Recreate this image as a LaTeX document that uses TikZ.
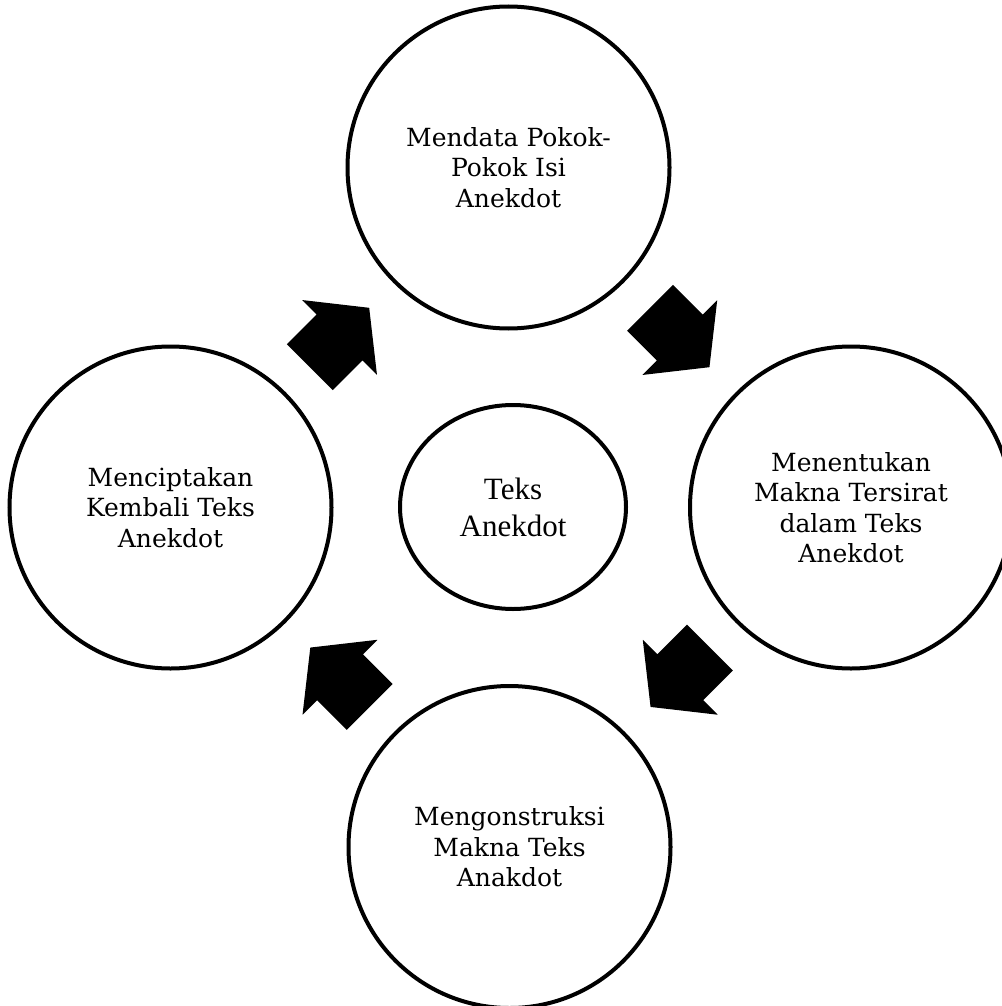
\documentclass[tikz,border=0pt]{standalone}
\usepackage{fontspec}
\setmainfont{DejaVu Serif}
\newfontfamily\timesfont{Liberation Serif}
\usetikzlibrary{shapes.geometric,calc}

\begin{document}
\begin{tikzpicture}[x=1pt,y=-1pt,
  stage/.style={circle,draw,line width=4pt,minimum size=322pt,inner sep=0pt,
    align=center,font=\fontsize{25}{30.5}\selectfont},
  hub/.style={ellipse,draw,line width=4pt,minimum width=226pt,minimum height=204pt,
    inner sep=0pt,align=center,font=\timesfont\fontsize{31}{37}\selectfont},
  blockarrow/.style={fill=black}]
  \useasboundingbox (0,0) rectangle (1001,1006);
  \node[stage] (mendata) at (508.5,167.5) {Mendata Pokok-\\Pokok Isi\\Anekdot};
  \node[stage] (menentukan) at (851,507.5) {Menentukan\\Makna Tersirat\\dalam Teks\\Anekdot};
  \node[stage] (mengonstruksi) at (509.5,847) {Mengonstruksi\\Makna Teks\\Anakdot};
  \node[stage] (menciptakan) at (170.5,507.5) {Menciptakan\\Kembali Teks\\Anekdot};
  \node[hub] (teks) at (513,507) {Teks\\Anekdot};
  %% block arrows halfway between neighbouring stages
  \foreach \from/\to/\ang in {menciptakan/mendata/45,mendata/menentukan/-45,
    menentukan/mengonstruksi/-135,mengonstruksi/menciptakan/135}{
    \fill[blockarrow,shift={($(\from.center)!0.5!(\to.center)$)},rotate=\ang]
      (-42,-32.5) -- (0,-32.5) -- (0,-53) -- (42,0) -- (0,53) -- (0,32.5) -- (-42,32.5) -- cycle;
  }
\end{tikzpicture}
\end{document}
